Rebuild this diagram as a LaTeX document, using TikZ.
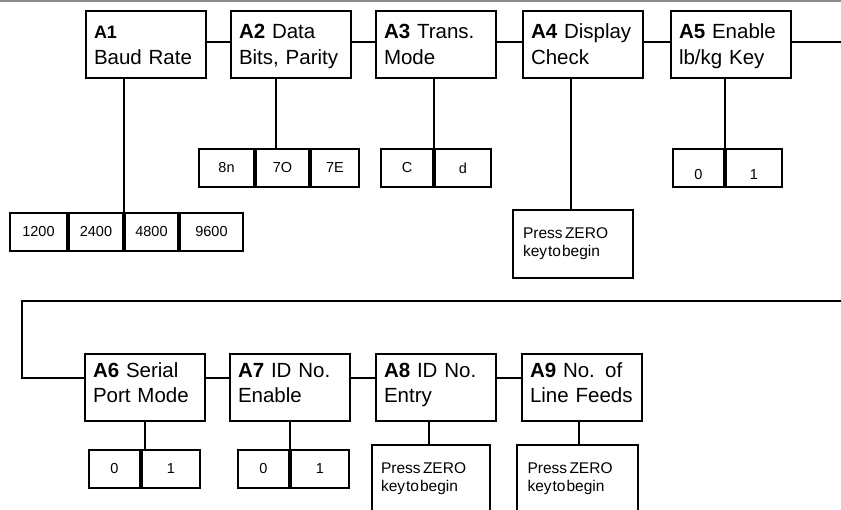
\documentclass[tikz,border=0pt]{standalone}
\usepackage{fontspec}
\setmainfont{Liberation Sans}
\usepackage{tikz}
\usetikzlibrary{positioning}
\tikzstyle{box_style00}=[draw, line width=2pt, inner sep=0pt]
\tikzstyle{param_box}=[box_style00, minimum width=120pt, minimum height=67pt,
text width=104pt, align=left, text height=28pt, text depth=39pt, font=\fontsize{20.5}{26}\selectfont]
\tikzstyle{param_low}=[param_box, text height=24pt, text depth=43pt, font=\fontsize{20.5}{25}\selectfont]
\tikzstyle{option_cell}=[box_style00, minimum height=38pt, font=\fontsize{14.5}{17}\selectfont]
\tikzstyle{zero_box}=[box_style00, anchor=north west, minimum width=120pt, minimum height=68pt,
text width=100pt, align=left, text height=28.5pt, text depth=39.5pt, font=\fontsize{15.5}{18.5}\selectfont]
\tikzstyle{myline}=[line width=1.9pt]

\begin{document}
\begin{tikzpicture}[x=1pt, y=-1pt]
		\useasboundingbox (0,0) rectangle (841,510);
		\draw[gray!90, line width=1.8pt] (0,1) -- (841,1);

		% first row
		\node[param_box] (A1) at (146,44.5) {{\fontsize{18}{24}\selectfont\textbf{A1}}\\Baud Rate} ;

		\node[param_box, right=23pt of A1] (A2) {\textbf{A2} Data\\Bits, Parity} ;
		\draw[myline] ([yshift=2.5pt]A1.east) -- ([yshift=2.5pt]A2.west) ;

		\node[param_box, right=23pt of A2] (A3) {\textbf{A3} Trans.\\Mode} ;
		\draw[myline] ([yshift=2.5pt]A2.east) -- ([yshift=2.5pt]A3.west) ;

		\node[param_box, right=25pt of A3] (A4) {\textbf{A4} Display\\Check} ;
		\draw[myline] ([yshift=2.5pt]A3.east) -- ([yshift=2.5pt]A4.west) ;

		\node[param_box, right=26pt of A4] (A5) {\textbf{A5} Enable\\lb/kg Key} ;
		\draw[myline] ([yshift=2.5pt]A4.east) -- ([yshift=2.5pt]A5.west) ;

		\coordinate (wrapR) at (845,42) ;
		\draw[myline] ([yshift=2.5pt]A5.east) -- (wrapR) ;

		% baud rates
		\node[option_cell, minimum width=57pt, anchor=north west] (o1200) at (9,212) {1200} ;
		\node[option_cell, minimum width=54pt, right=0pt of o1200] (o2400) {2400} ;
		\node[option_cell, minimum width=53pt, right=0pt of o2400] (o4800) {4800} ;
		\node[option_cell, minimum width=63pt, right=0pt of o4800] (o9600) {9600} ;
		\draw[myline] (o2400.north east) -- (o2400.north east |- A1.south) ;

		% data bits, parity
		\node[option_cell, minimum width=55pt, anchor=north west] (o8n) at (198,148) {8n} ;
		\node[option_cell, minimum width=53pt, right=0pt of o8n] (o7O) {7O} ;
		\node[option_cell, minimum width=48pt, right=0pt of o7O] (o7E) {7E} ;
		\draw[myline] ([xshift=-6.5pt]o7O.north) -- ([xshift=-6.5pt]o7O.north |- A2.south) ;

		% trans. mode
		\node[option_cell, minimum width=52pt, anchor=north west] (oC) at (380,148) {C} ;
		\node[option_cell, minimum width=56pt, right=0pt of oC] (od) {d} ;
		\draw[myline] (oC.north east) -- (oC.north east |- A3.south) ;

		% display check
		\node[zero_box] (Z4) at (512,209) {\spaceskip=2.4pt Press ZERO\\\spaceskip=1pt key to begin} ;
		\draw[myline] ([xshift=-2pt]Z4.north) -- ([xshift=-2pt]Z4.north |- A4.south) ;

		% lb/kg key
		\node[option_cell, minimum width=51pt, text height=24pt, anchor=north west] (oA5zero) at (672,148) {0} ;
		\node[option_cell, minimum width=56pt, text height=24pt, right=0pt of oA5zero] (oA5one) {1} ;
		\draw[myline] (oA5zero.north east) -- (oA5zero.north east |- A5.south) ;

		% second row
		\node[param_low] (A6) at (145,387.5) {\textbf{A6} Serial\\Port Mode} ;
		\coordinate (wrapR2) at (845,301) ;
		\coordinate (wrapL) at (22,301) ;
		\draw[myline] (wrapR2) -- (wrapL) |- ([yshift=9.5pt]A6.west) ;

		\node[param_low, right=23pt of A6] (A7) {\textbf{A7} ID No.\\Enable} ;
		\draw[myline] ([yshift=9.5pt]A6.east) -- ([yshift=9.5pt]A7.west) ;

		\node[param_low, right=24pt of A7] (A8) {\textbf{A8} ID No.\\Entry} ;
		\draw[myline] ([yshift=9.5pt]A7.east) -- ([yshift=9.5pt]A8.west) ;

		\node[param_low, right=24pt of A8] (A9) {\textbf{A9} No. of\\Line Feeds} ;
		\draw[myline] ([yshift=9.5pt]A8.east) -- ([yshift=9.5pt]A9.west) ;

		% serial port mode
		\node[option_cell, minimum width=51pt, anchor=north west] (oA6zero) at (88,449) {0} ;
		\node[option_cell, minimum width=58pt, right=0pt of oA6zero] (oA6one) {1} ;
		\draw[myline] ([xshift=4pt]oA6zero.north east) -- ([xshift=4pt]oA6zero.north east |- A6.south) ;

		% id no. enable
		\node[option_cell, minimum width=51pt, anchor=north west] (oA7zero) at (237,449) {0} ;
		\node[option_cell, minimum width=58pt, right=0pt of oA7zero] (oA7one) {1} ;
		\draw[myline] (oA7zero.north east) -- (oA7zero.north east |- A7.south) ;

		% id no. entry, line feeds
		\node[zero_box, minimum width=118pt] (Z8) at (371,444) {\spaceskip=2.4pt Press ZERO\\\spaceskip=1pt key to begin} ;
		\draw[myline] ([xshift=-2pt]Z8.north) -- ([xshift=-2pt]Z8.north |- A8.south) ;

		\node[zero_box, minimum width=121pt] (Z9) at (516,444) {\spaceskip=2.4pt Press ZERO\\\spaceskip=1pt key to begin} ;
		\draw[myline] ([xshift=1.5pt]Z9.north) -- ([xshift=1.5pt]Z9.north |- A9.south) ;

	\end{tikzpicture}
\end{document}
